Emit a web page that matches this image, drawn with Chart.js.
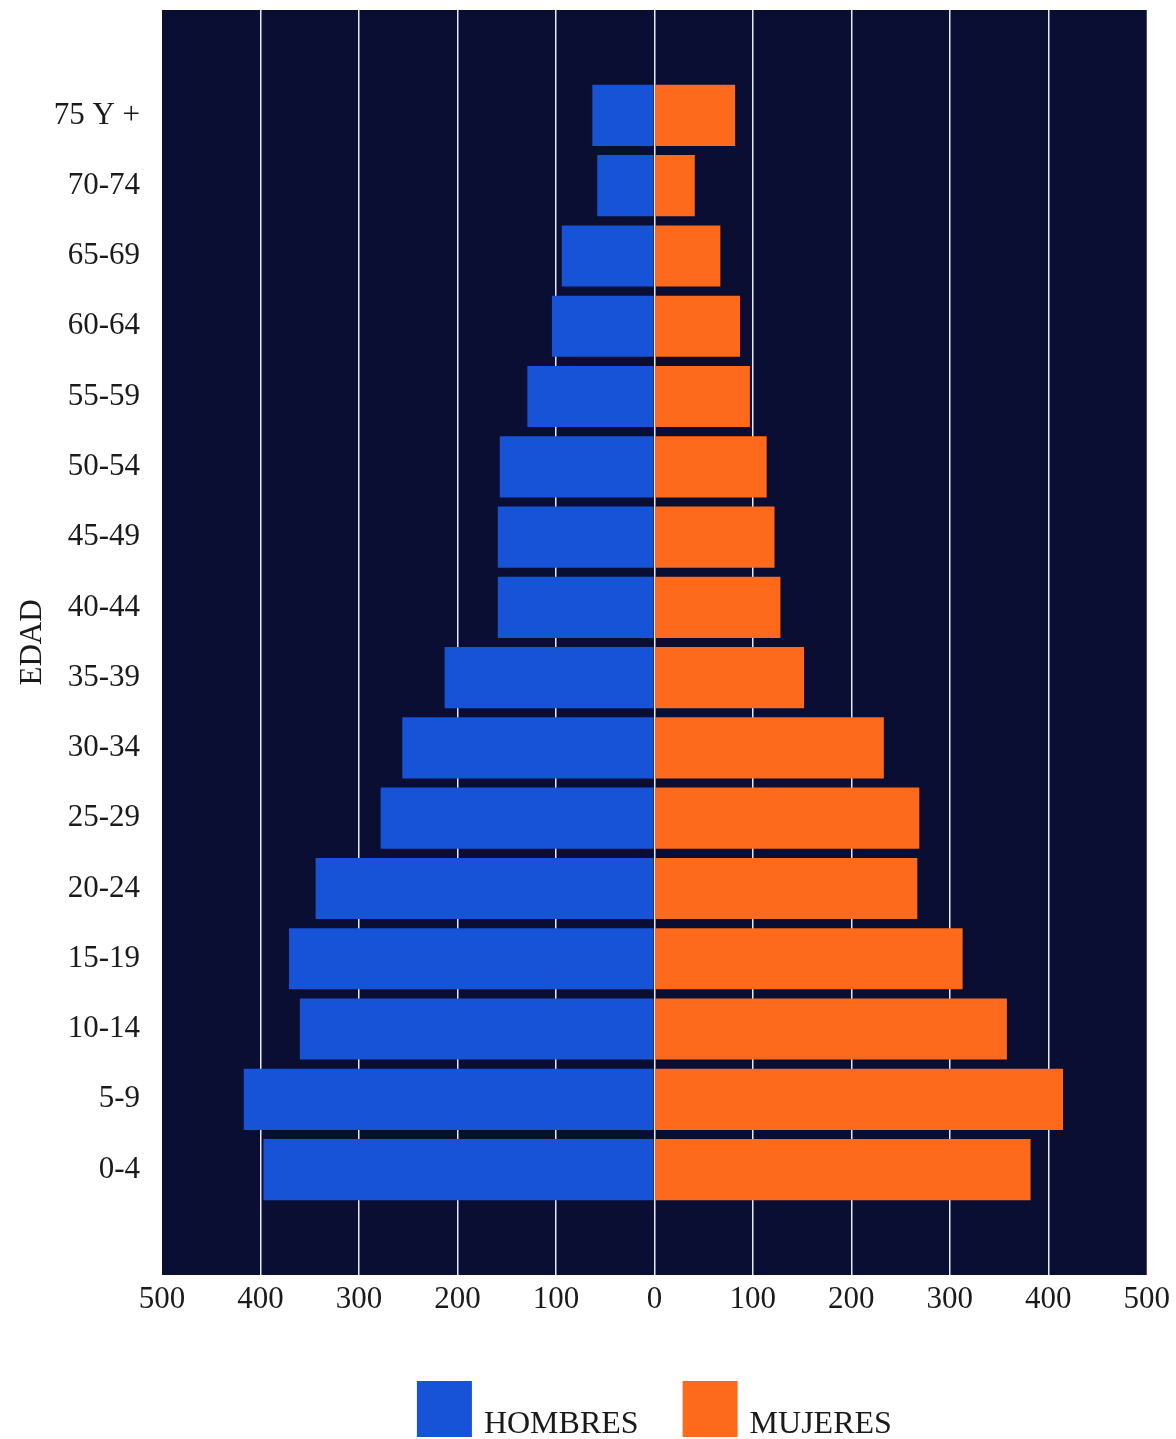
<!DOCTYPE html>
<html>
<head>
<meta charset="utf-8">
<script src="https://cdn.jsdelivr.net/npm/chart.js@4/dist/chart.umd.min.js"></script>
<style>
  html, body { margin: 0; padding: 0; background: #ffffff; }
  #wrap { width: 1176px; height: 1439px; }
</style>
</head>
<body>
<div id="wrap"><canvas id="c" width="1176" height="1439"></canvas></div>
<script>
// Age groups, oldest at the top
const ageGroups = ['75 Y +', '70-74', '65-69', '60-64', '55-59', '50-54', '45-49', '40-44',
                   '35-39', '30-34', '25-29', '20-24', '15-19', '10-14', '5-9', '0-4'];
const hombres = [63, 58, 94, 104, 129, 157, 159, 159, 213, 256, 278, 344, 371, 360, 417, 397];
const mujeres = [82, 41, 67, 87, 97, 114, 122, 128, 152, 233, 269, 267, 313, 358, 415, 382];
const xTicks = [-500, -400, -300, -200, -100, 0, 100, 200, 300, 400, 500];
const seriesNames = ['HOMBRES', 'MUJERES'];
const axisTitle = 'EDAD';

const BLUE = '#1753d6';
const ORANGE = '#fd6a1c';
const NAVY = '#0a0e33';
const FONT = '"Liberation Serif", "Times New Roman", serif';

// one empty slot above and below the pyramid
const labels = [''].concat(ageGroups, ['']);
const menData = [null].concat(hombres.map(v => -v), [null]);
const womenData = [null].concat(mujeres, [null]);

const plotBackground = {
  id: 'plotBackground',
  beforeDraw(chart) {
    const { ctx, chartArea: a } = chart;
    ctx.save();
    ctx.fillStyle = NAVY;
    ctx.fillRect(a.left, a.top, a.right - a.left, a.bottom - a.top);
    ctx.restore();
  }
};

const bottomLegend = {
  id: 'bottomLegend',
  afterDraw(chart) {
    const { ctx } = chart;
    const colors = [BLUE, ORANGE];
    const boxW = 55, boxH = 56, gapBoxText = 12, gapItems = 44;
    ctx.save();
    ctx.font = '32px ' + FONT;
    const widths = seriesNames.map(n => ctx.measureText(n).width);
    const total = widths.reduce((s, w) => s + boxW + gapBoxText + w, 0) + gapItems * (seriesNames.length - 1);
    const cx = chart.scales.x.getPixelForValue(0);
    let x = cx - total / 2;
    const boxTop = 1381;
    const baseline = 1433;
    seriesNames.forEach((n, i) => {
      ctx.fillStyle = colors[i];
      ctx.fillRect(x, boxTop, boxW, boxH);
      x += boxW + gapBoxText;
      ctx.fillStyle = '#1a1a1a';
      ctx.textBaseline = 'alphabetic';
      ctx.textAlign = 'left';
      ctx.fillText(n, x, baseline);
      x += widths[i] + gapItems;
    });
    ctx.restore();
  }
};

new Chart(document.getElementById('c'), {
  type: 'bar',
  data: {
    labels: labels,
    datasets: [
      { label: seriesNames[0], data: menData, backgroundColor: BLUE, borderWidth: 0 },
      { label: seriesNames[1], data: womenData, backgroundColor: ORANGE, borderWidth: 0 }
    ]
  },
  options: {
    indexAxis: 'y',
    responsive: false,
    animation: false,
    devicePixelRatio: 1,
    layout: { padding: { top: 10, right: 26, bottom: 114, left: 0 } },
    datasets: { bar: { barPercentage: 0.87, categoryPercentage: 1.0 } },
    plugins: {
      legend: { display: false },
      tooltip: { enabled: false }
    },
    scales: {
      x: {
        type: 'linear',
        min: -500,
        max: 500,
        stacked: true,
        afterBuildTicks(scale) { scale.ticks = xTicks.map(v => ({ value: v })); },
        afterFit(scale) { scale.height = 50; },
        ticks: {
          color: '#1a1a1a',
          font: { family: FONT, size: 31 },
          padding: 6,
          maxRotation: 0,
          callback: v => String(Math.abs(v))
        },
        grid: {
          drawTicks: false,
          lineWidth: 1.5,
          color: ctx => (Math.abs(ctx.tick && ctx.tick.value) === 500 ? 'rgba(0,0,0,0)' : '#e6e9f5')
        },
        border: { display: false }
      },
      y: {
        stacked: true,
        afterFit(scale) {
          scale.width = 162;
          scale.paddingTop = 0;
          scale.paddingBottom = 0;
        },
        ticks: {
          color: '#1a1a1a',
          font: { family: FONT, size: 31 },
          padding: 22,
          autoSkip: false
        },
        title: {
          display: true,
          text: axisTitle,
          color: '#1a1a1a',
          font: { family: FONT, size: 31 },
          padding: { top: 14, bottom: 0 }
        },
        grid: { display: false, drawTicks: false },
        border: { display: false }
      }
    }
  },
  plugins: [plotBackground, bottomLegend]
});
</script>
</body>
</html>
